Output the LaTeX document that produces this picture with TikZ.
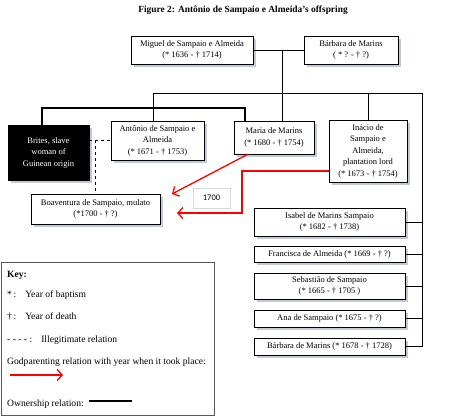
\documentclass[tikz,border=0pt]{standalone}
\usepackage{fontspec}
\setmainfont{Liberation Serif}
\newfontfamily\calibri{Carlito}
\usetikzlibrary{arrows.meta,shadows}
\definecolor{shade}{RGB}{120,135,175}

\begin{document}
\begin{tikzpicture}[x=1pt,y=-1pt,
    box/.style={draw,fill=white,align=center,inner sep=1pt,
      font=\fontsize{8.5}{11.5}\selectfont,
      drop shadow={shadow xshift=3pt,shadow yshift=-3pt,fill=shade,opacity=.45}},
    god/.style={red,line width=1.3pt,-{Straight Barb[length=5pt,width=11pt]}},
    owner/.style={line width=1.2pt},
    illeg/.style={dashed,thick},
    keyline/.style={anchor=base west,inner sep=0pt,font=\fontsize{9.6}{11}\selectfont}]

  \useasboundingbox (0,0) rectangle (450,417);

  \node[font=\bfseries\fontsize{9.4}{11}\selectfont] (title) at (243,10)
    {Figure 2: Antônio de Sampaio e Almeida’s offspring};

  % parents
  \node[box,minimum width=122pt,minimum height=28pt] (miguel) at (192,50)
    {Miguel de Sampaio e Almeida\\(* 1636 - † 1714)};
  \node[box,minimum width=94pt,minimum height=28pt] (barbara) at (351,50)
    {Bárbara de Marins\\( * ? - † ?)};

  % children
  \node[box,fill=black,text=white,minimum width=81pt,minimum height=55pt] (brites) at (48.5,152.5)
    {Brites, slave\\woman of\\Guinean origin};
  \node[box,minimum width=93pt,minimum height=39pt] (antonio) at (157.5,140.5)
    {Antônio de Sampaio e\\Almeida\\(* 1671 - † 1753)};
  \node[box,minimum width=80pt,minimum height=33pt] (maria) at (274,137.5)
    {Maria de Marins\\(* 1680 - † 1754)};
  \node[box,minimum width=78pt,minimum height=62pt] (inacio) at (368,151)
    {Inácio de\\Sampaio e\\Almeida,\\plantation lord\\(* 1673 - † 1754)};
  \node[box,minimum width=129pt,minimum height=30pt] (boav) at (95.5,209)
    {Boaventura de Sampaio, mulato\\(*1700 - † ?)};
  \node[draw=gray!30,font=\calibri\fontsize{8.5}{10}\selectfont,minimum width=37pt,minimum height=20pt] (year) at (211.5,198) {1700};

  \node[box,minimum width=151pt,minimum height=28pt] (isabel) at (329.5,222)
    {Isabel de Marins Sampaio\\(* 1682 - † 1738)};
  \node[box,minimum width=151pt,minimum height=16pt] (francisca) at (329.5,254)
    {Francisca de Almeida (* 1669 - † ?)};
  \node[box,minimum width=151pt,minimum height=26pt] (sebastiao) at (329.5,286)
    {Sebastião de Sampaio\\(* 1665 - † 1705 )};
  \node[box,minimum width=151pt,minimum height=17pt] (ana) at (329.5,318.5)
    {Ana de Sampaio (* 1675 - † ?)};
  \node[box,minimum width=151pt,minimum height=17pt] (barbara2) at (329.5,346.5)
    {Bárbara de Marins (* 1678 - † 1728)};

  % family lines
  \coordinate (couple) at (282,50);
  \coordinate (kids) at (282,93);
  \coordinate (kl) at (153,93);
  \coordinate (kr) at (422,93);
  \draw (miguel) -- (barbara);
  \draw (couple) -- (kids);
  \draw (kl) -- (kr);
  \draw (kl) -- (kl |- antonio.north);
  \draw (kids) -- (kids |- maria.north);
  \draw (inacio.north |- kl) -- (inacio.north);
  \draw (kr) -- (kr |- barbara2.east);
  \foreach \n in {isabel,francisca,sebastiao,ana,barbara2}
    \draw (\n.east) -- (\n.east -| kr);

  % ownership and illegitimate relation
  \coordinate (own) at (245,108);
  \draw[owner] ([xshift=-6.5pt]brites.north) |- (own) -- (own |- maria.north);
  \draw[illeg] (brites.east |- antonio.west) -- (antonio.west);
  \draw[illeg] (boav.north |- antonio.west) -- (boav.north);

  % godparenting
  \coordinate (tip1) at (172,194);
  \coordinate (tip2) at (177,213);
  \coordinate (bend) at (242,213);
  \draw[god] ([xshift=-26pt]maria.south) -- (tip1);
  \draw[god] ([yshift=-20pt]inacio.west) -| (bend) -- (tip2);

  % key
  \draw[gray!70!black] (1,262) rectangle (214,415);
  \node[keyline,font=\bfseries\fontsize{9.6}{11}\selectfont] (k0) at (7,277) {Key:};
  \node[keyline] (k1) at (7,297) {*\,:\hspace{9pt}Year of baptism};
  \node[keyline] (k2) at (7,319) {†\,:\hspace{9pt}Year of death};
  \node[keyline] (k3) at (7,342) {- - - - :\hspace{9pt}Illegitimate relation};
  \node[keyline] (k4) at (7,364) {Godparenting relation with year when it took place:};
  \coordinate (ga) at (10,375);
  \coordinate (gb) at (63,375);
  \draw[god] (ga) -- (gb);
  \node[keyline] (k5) at (7,406) {Ownership relation:};
  \coordinate (oa) at (89,401);
  \coordinate (ob) at (132,401);
  \draw[owner] (oa) -- (ob);
\end{tikzpicture}
\end{document}
